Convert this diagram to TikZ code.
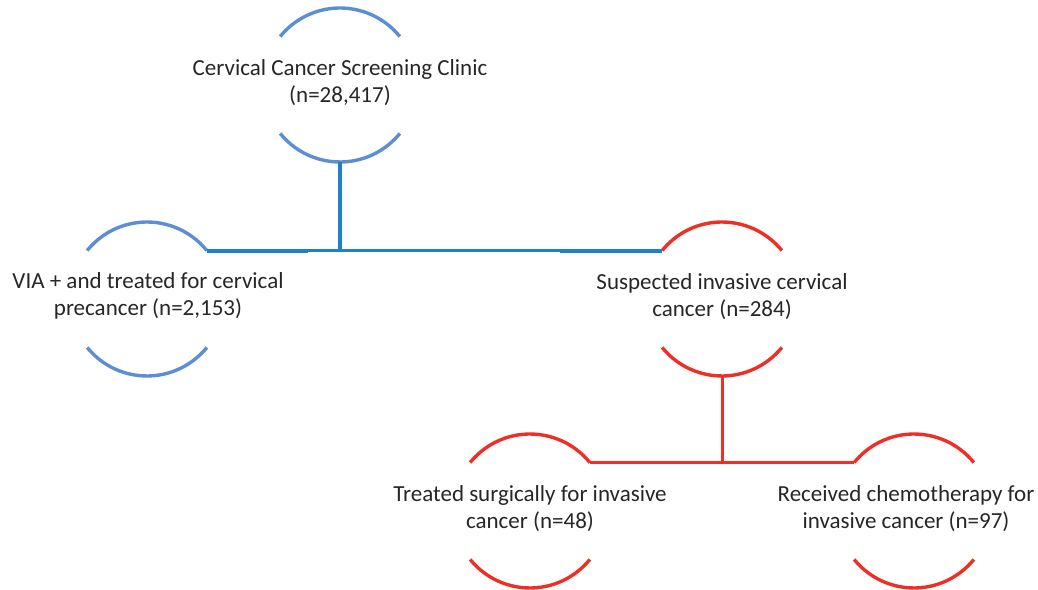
\documentclass[tikz,border=0pt]{standalone}
\usepackage{fontspec}
\setmainfont{Carlito}
\usetikzlibrary{calc}
\definecolor{arcblue}{HTML}{5B8ED2}
\definecolor{lineblue}{HTML}{1E80C8}
\definecolor{arcred}{HTML}{EE2F26}
\definecolor{txtgray}{HTML}{262626}
\tikzset{
  ring/.style={circle, minimum size=154pt, inner sep=0pt, outer sep=0pt},
  txt/.style={align=center, text=txtgray, font=\fontsize{23}{27}\selectfont, inner sep=0pt},
  barc/.style={draw=arcblue, line width=3.4pt},
  rarc/.style={draw=arcred, line width=3.4pt},
  bconn/.style={draw=lineblue, line width=2.8pt},
  bconnthick/.style={draw=lineblue, line width=4pt},
  rconn/.style={draw=arcred, line width=3pt},
}
\newcommand{\ringarcs}[2]{%
  \draw[#2] (#1.39) arc[start angle=39, end angle=141, radius=77pt];
  \draw[#2] (#1.-141) arc[start angle=-141, end angle=-39, radius=77pt];
}
\begin{document}
\begin{tikzpicture}[x=1pt, y=1pt]
\useasboundingbox (0,0) rectangle (1038,589);
% circles (invisible) that carry the arcs
\node[ring] (a) at (340,504) {};
\node[ring] (b) at (147,290) {};
\node[ring] (c) at (722,290) {};
\node[ring] (d) at (530,78) {};
\node[ring] (e) at (914,78) {};
% texts
\node[txt] (ta) at (340,506) {Cervical Cancer Screening Clinic\\(n=28,417)};
\node[txt] (tb) at (148,293) {VIA + and treated for cervical\\precancer (n=2,153)};
\node[txt] (tc) at (722,292) {Suspected invasive cervical\\cancer (n=284)};
\node[txt] (td) at (530,80) {Treated surgically for invasive\\cancer (n=48)};
\node[txt] (te) at (906,80) {Received chemotherapy for\\invasive cancer (n=97)};
% arcs
\ringarcs{a}{barc}
\ringarcs{b}{barc}
\ringarcs{c}{rarc}
\ringarcs{d}{rarc}
\ringarcs{e}{rarc}
% blue connectors
\coordinate (bj) at (a.south |- b.39);
\draw[bconn, line width=3.6pt] (a.south) -- (bj);
\draw[bconn] (b.39) -- (c.141);
\draw[bconnthick] (b.39) -- ($(b.39)+(101,0)$);
\draw[bconnthick] (c.141) -- ($(c.141)+(-102,0)$);
% red connectors
\coordinate (rj) at (c.south |- d.39);
\draw[rconn] (c.south) -- (rj);
\draw[rconn] (d.39) -- (e.141);
\end{tikzpicture}
\end{document}
